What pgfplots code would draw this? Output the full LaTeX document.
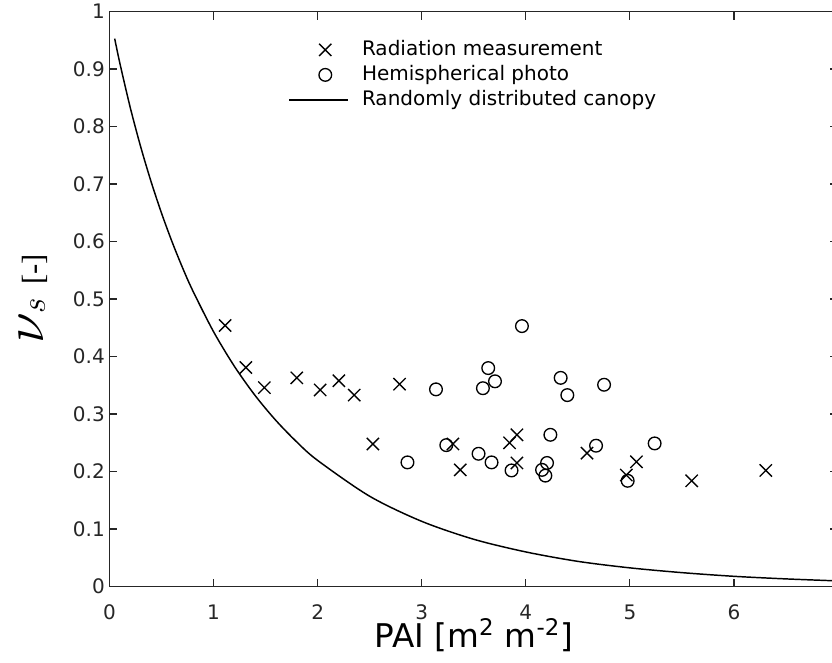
\documentclass[border=0pt]{standalone}
\usepackage{pgfplots}
\pgfplotsset{compat=1.18}
\usepackage{graphicx}
\usepackage{fontspec}
\setmainfont{DejaVu Sans}
\newfontfamily\seriffont{Liberation Serif}
\definecolor{axgray}{HTML}{262626}
\pgfplotsset{
  markleg/.style={legend image code/.code={\path[draw=none] (0pt,0pt) -- (44pt,0pt); \draw[##1] plot coordinates {(27pt,0pt)};}},
  lineleg/.style={legend image code/.code={\draw[##1] (0pt,0pt) -- (44pt,0pt);}},
}
\begin{document}
\begin{tikzpicture}
\begin{axis}[
  width=546.4pt, height=431.3pt, scale only axis,
  xmin=0, xmax=7, ymin=0, ymax=1,
  xtick={0,1,2,3,4,5,6},
  ytick={0,0.1,0.2,0.3,0.4,0.5,0.6,0.7,0.8,0.9,1},
  /pgf/number format/assume math mode=true,
  axis line style={axgray, line width=0.9pt},
  tick style={axgray, line width=0.9pt},
  major tick length=6pt,
  tick label style={font=\fontsize{15pt}{18pt}\selectfont, text=axgray},
  xticklabel style={inner sep=0pt, yshift=-13.5pt},
  xlabel={PAI [m\smash{\textsuperscript{2}} m\smash{\textsuperscript{-2}}]},
  xlabel style={font=\fontsize{24.5pt}{28pt}\selectfont, text=black, inner sep=0pt, at={(axis description cs:0.5,0)}, anchor=base, yshift=-45.5pt},
  ylabel={{\seriffont\fontsize{23pt}{28pt}\selectfont \scalebox{1.7}{$\nu$}\raisebox{-1pt}{$s$}\, [-]}},
  ylabel style={at={(axis description cs:-0.1045,0.5)}, anchor=center, text=black, inner sep=0pt},
  legend style={draw=none, fill=none, at={(axis description cs:0.2454,0.950)}, anchor=north west,
    font=\fontsize{15pt}{18pt}\selectfont, text=black,
    nodes={inner sep=0pt, text height=11pt, text depth=3pt},
    row sep=4.75pt, column sep=10pt, inner sep=0pt},
  legend cell align=left,
]
\addplot[only marks, mark=x, mark size=6.5pt, line width=1pt, black, markleg]
table {
x y
1.111 0.454
1.310 0.381
1.488 0.346
1.800 0.363
2.024 0.342
2.204 0.358
2.351 0.333
2.787 0.352
2.531 0.248
3.300 0.248
3.370 0.203
3.844 0.250
3.915 0.264
3.915 0.215
4.588 0.232
4.966 0.194
5.063 0.217
5.594 0.184
6.306 0.202
};
\addlegendentry{Radiation measurement}
\addplot[only marks, mark=o, mark size=4.75pt, line width=1pt, black, markleg]
table {
x y
3.137 0.343
2.863 0.216
3.963 0.453
3.639 0.380
3.704 0.357
3.588 0.345
4.335 0.363
4.399 0.333
4.752 0.351
3.236 0.246
3.546 0.231
3.671 0.216
3.863 0.202
4.236 0.264
4.204 0.215
4.156 0.203
4.188 0.193
4.675 0.245
5.238 0.249
4.979 0.184
};
\addlegendentry{Hemispherical photo}
\addplot[black, line width=1.1pt, smooth, lineleg]
table {
x y
0.05 0.9529
0.1 0.9098
0.2 0.8326
0.3 0.7646
0.4 0.7039
0.5 0.6494
0.6 0.6001
0.7 0.5553
0.8 0.5146
1.0 0.4432
1.2 0.3831
1.4 0.3321
1.6 0.2887
1.8 0.2514
2.0 0.2194
2.5 0.1571
3.0 0.1135
3.5 0.0823
4.0 0.0603
4.5 0.0439
5.0 0.0326
5.5 0.0243
6.0 0.0179
6.5 0.0134
7.0 0.0099
};
\addlegendentry{Randomly distributed canopy}
\end{axis}
\pgfresetboundingbox
\path[use as bounding box] (-82.125pt,-56.55pt) rectangle (541.875pt,439.95pt);
\end{tikzpicture}
\end{document}
